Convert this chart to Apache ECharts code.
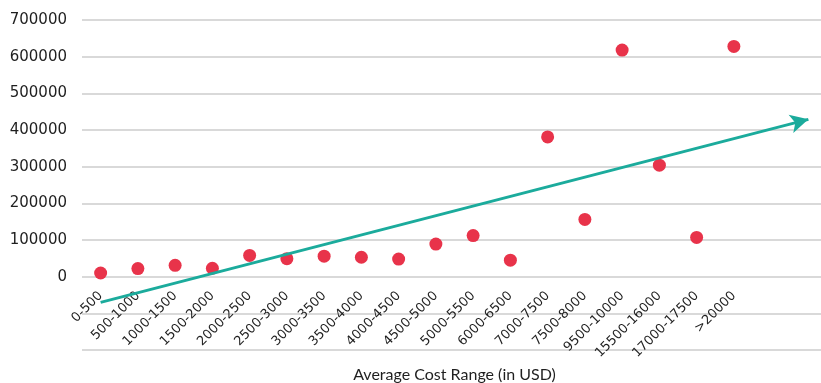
<!DOCTYPE html>
<html>
<head>
<meta charset="utf-8">
<script src="https://cdn.jsdelivr.net/npm/echarts@6/dist/echarts.min.js"></script>
<style>
  html, body { margin: 0; padding: 0; background: #ffffff; }
  #chart { width: 821px; height: 383px; }
</style>
</head>
<body>
<div id="chart"></div>
<script>
// Cost ranges (USD) along the horizontal axis; two trailing blank slots leave room for the trend arrow
const costRanges = ['0-500', '500-1000', '1000-1500', '1500-2000', '2000-2500', '2500-3000',
  '3000-3500', '3500-4000', '4000-4500', '4500-5000', '5000-5500', '6000-6500',
  '7000-7500', '7500-8000', '9500-10000', '15500-16000', '17000-17500', '>20000', '', ' '];

// Value observed for each cost range
const rangeValues = [10000, 22000, 31000, 23000, 58000, 49000, 56000, 53000, 48000,
  89000, 112000, 45000, 381000, 156000, 618000, 304000, 107000, 628000];

// Trend arrow: start and end points as [category index, value]
const trendStart = [0, -70000];
const trendEnd = [19, 429000];

const yTicks = { min: -200000, max: 700000, step: 100000 };

const textColor = '#1f1f1f';
const numberFont = '"DejaVu Sans", sans-serif';
const titleFont = 'Lato, "Open Sans", sans-serif';

const gridBox = { left: 82, right: -6, top: 20, bottom: 33 };

const chart = echarts.init(document.getElementById('chart'), null, { renderer: 'canvas' });

chart.setOption({
  animation: false,
  backgroundColor: '#ffffff',
  grid: Object.assign({ containLabel: false, outerBoundsMode: 'none' }, gridBox),
  xAxis: {
    type: 'category',
    data: costRanges,
    boundaryGap: true,
    position: 'bottom',
    axisLine: { show: false },
    axisTick: { show: false },
    axisLabel: {
      interval: 0,
      rotate: 45,
      margin: 17,
      color: textColor,
      fontSize: 13,
      fontFamily: numberFont
    },
    splitLine: { show: false },
    name: 'Average Cost Range (in USD)',
    nameLocation: 'middle',
    nameGap: 87,
    nameTextStyle: { color: textColor, fontSize: 16, fontFamily: titleFont }
  },
  yAxis: {
    type: 'value',
    min: yTicks.min,
    max: yTicks.max,
    interval: yTicks.step,
    axisLine: { show: false },
    axisTick: { show: false },
    axisLabel: {
      margin: 15,
      color: textColor,
      fontSize: 15,
      fontFamily: numberFont,
      formatter: v => (v < 0 ? '' : String(v))
    },
    splitLine: { show: true, lineStyle: { color: '#d9d9d9', width: 2 } }
  },
  series: [{
    type: 'scatter',
    data: rangeValues,
    symbol: 'circle',
    symbolSize: 13,
    itemStyle: { color: '#e8334a', opacity: 1 },
    markLine: {
      silent: true,
      animation: false,
      label: { show: false },
      lineStyle: { color: '#1bab9c', width: 3, type: 'solid', opacity: 1 },
      data: [[
        { coord: trendStart, symbol: 'none' },
        { coord: trendEnd, symbol: 'arrow', symbolSize: [14, 18] }
      ]]
    }
  }]
});

// Lift the category axis so its labels hang from the zero line
const zeroY = chart.convertToPixel({ yAxisIndex: 0 }, 0);
const bottomY = chart.getHeight() - gridBox.bottom;
chart.setOption({ xAxis: { offset: -(bottomY - zeroY) } });
</script>
</body>
</html>
